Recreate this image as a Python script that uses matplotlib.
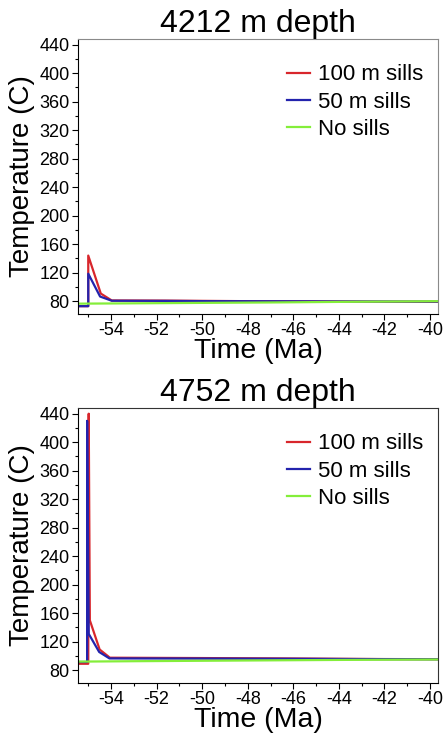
import matplotlib
matplotlib.use("Agg")
import matplotlib.pyplot as plt
from matplotlib.ticker import MultipleLocator

plt.rcParams['font.family'] = ['Liberation Sans', 'DejaVu Sans']

# Thermal history at two depths (time in Ma, temperature in C)
titles = ["4212 m depth", "4752 m depth"]
series_labels = ["100 m sills", "50 m sills", "No sills"]
colors = ["#d8262c", "#2323ad", "#84ee3a"]

# 4212 m
t_red_a = [-55.5, -55.0, -55.0, -54.45, -53.97, -51.6, -48.0, -44.0, -42.0, -39.6]
v_red_a = [73.0, 73.0, 144.0, 90.7, 81.0, 80.8, 80.0, 79.6, 79.2, 79.0]
t_blue_a = [-55.5, -55.0, -55.0, -54.48, -53.97, -51.6, -49.6, -46.0, -44.0, -39.6]
v_blue_a = [73.0, 73.0, 118.6, 86.5, 80.6, 80.4, 80.0, 79.8, 79.6, 79.4]
t_green_a = [-55.5, -53.0, -50.0, -47.0, -44.0, -39.6]
v_green_a = [76.5, 77.0, 77.6, 78.2, 79.0, 80.0]

# 4752 m
t_red_b = [-55.5, -55.0, -54.98, -54.93, -54.5, -54.05, -50.0, -46.5, -42.0, -39.6]
v_red_b = [89.0, 89.0, 440.0, 150.0, 109.0, 97.5, 97.0, 96.5, 95.6, 95.4]
t_blue_b = [-55.5, -55.05, -55.05, -54.98, -54.52, -54.07, -50.0, -46.0, -43.2, -39.6]
v_blue_b = [91.5, 91.5, 430.0, 131.0, 105.5, 96.5, 96.3, 96.0, 95.6, 95.3]
t_green_b = [-55.5, -53.0, -50.0, -47.0, -44.0, -39.6]
v_green_b = [92.0, 92.6, 93.2, 93.8, 94.4, 95.0]

panels = [
    (titles[0], [(t_red_a, v_red_a), (t_blue_a, v_blue_a), (t_green_a, v_green_a)]),
    (titles[1], [(t_red_b, v_red_b), (t_blue_b, v_blue_b), (t_green_b, v_green_b)]),
]

xticks = list(range(-54, -39, 2))
yticks = list(range(80, 441, 40))

fig = plt.figure(figsize=(4.44, 7.35), dpi=100)
rects = [
    [78 / 444, 1 - 314 / 735, 360 / 444, 275 / 735],
    [78 / 444, 1 - 683 / 735, 360 / 444, 275 / 735],
]
frame_colors = ["#8a8a8a", "#333333"]

for rect, (title, data), fc in zip(rects, panels, frame_colors):
    ax = fig.add_axes(rect)
    for (t, v), c, lab in zip(data, colors, series_labels):
        ax.plot(t, v, color=c, lw=1.6, label=lab)
    ax.set_xlim(-55.45, -39.65)
    ax.set_ylim(62, 448)
    ax.set_xticks(xticks)
    ax.set_xticklabels([str(x) for x in xticks])
    ax.set_yticks(yticks)
    ax.xaxis.set_minor_locator(MultipleLocator(1))
    ax.yaxis.set_minor_locator(MultipleLocator(20))
    ax.tick_params(axis='both', which='major', labelsize=13, length=4, width=0.8,
                   direction='out', pad=2)
    ax.tick_params(axis='both', which='minor', length=2, width=0.8, direction='out')
    ax.tick_params(top=False, right=False, which='both')
    for s in ['top', 'right']:
        ax.spines[s].set_color(fc)
    for s in ['left', 'bottom']:
        ax.spines[s].set_color('black')
    ax.set_title(title, fontsize=23, pad=3)
    ax.set_xlabel("Time (Ma)", fontsize=20.5, labelpad=-1)
    ax.set_ylabel("Temperature (C)", fontsize=20, labelpad=3)
    ax.legend(loc='upper left', bbox_to_anchor=(0.555, 0.94), frameon=False,
              fontsize=16, handlelength=1.05, handletextpad=0.35,
              labelspacing=0.28, borderaxespad=0)

fig.savefig("out.png", dpi=100)
